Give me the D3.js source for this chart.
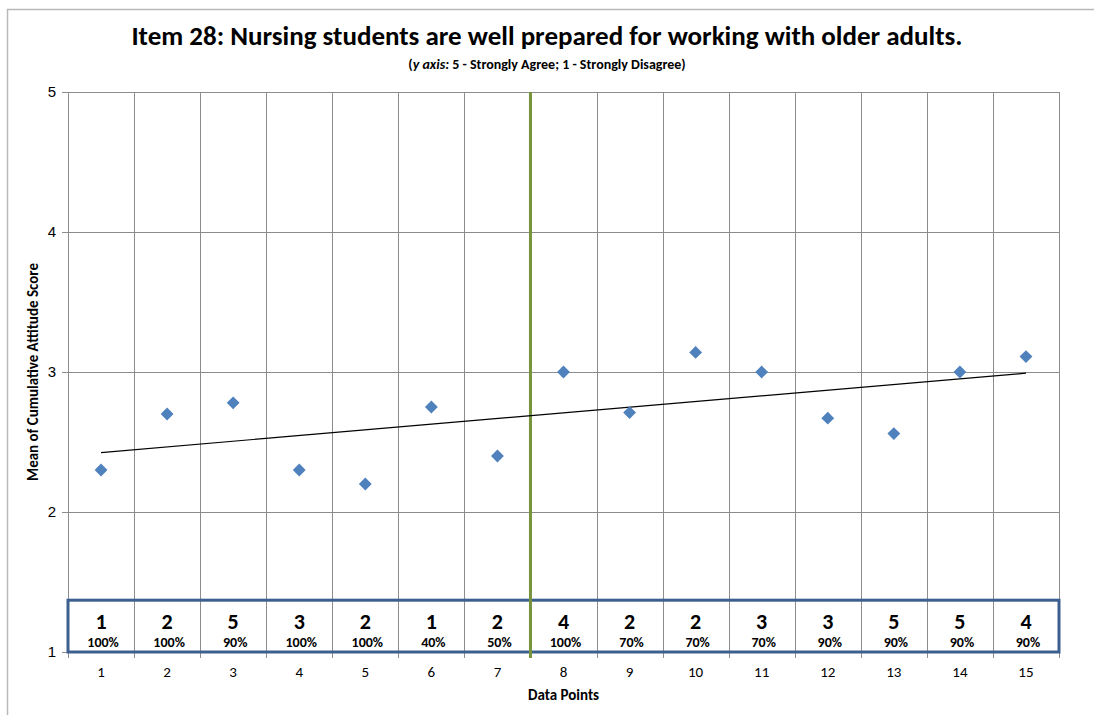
<!DOCTYPE html>
<html>
<head>
<meta charset="utf-8">
<script src="https://cdn.jsdelivr.net/npm/d3@7"></script>
<style>
	body { margin: 0; background: #fff; }
	svg { display: block; font-family: Carlito, Calibri, "Open Sans", "Liberation Sans", sans-serif; }
</style>
</head>
<body>
<svg id="chart" width="1094" height="715"></svg>
<script>
// data
const dataPoints = d3.range(1, 16);
const meanScores = [2.30, 2.70, 2.78, 2.30, 2.20, 2.75, 2.40, 3.00, 2.71, 3.14, 3.00, 2.67, 2.56, 3.00, 3.11];
const counts = [1, 2, 5, 3, 2, 1, 2, 4, 2, 2, 3, 3, 5, 5, 4];
const percents = ["100%", "100%", "90%", "100%", "100%", "40%", "50%", "100%", "70%", "70%", "70%", "90%", "90%", "90%", "90%"];
const yTicks = [1, 2, 3, 4, 5];
const phaseChangeAfter = 7;

const svg = d3.select("#chart");
const margin = { top: 92, right: 35, bottom: 63, left: 68 };
const width = 1094 - margin.left - margin.right;
const height = 715 - margin.top - margin.bottom;

// chart border (runs off the right and bottom edges)
svg.append("rect")
	.attr("x", 7.5).attr("y", 9.5)
	.attr("width", 1200).attr("height", 800)
	.attr("fill", "none")
	.attr("stroke", "#b9b9b9")
	.attr("stroke-width", 1.5);

const x = d3.scaleLinear().domain([0.5, 15.5]).range([0, width]);
const y = d3.scaleLinear().domain([1, 5]).range([height, 0]);

const g = svg.append("g").attr("transform", `translate(${margin.left},${margin.top})`);

// gridlines
g.append("g").selectAll("line")
	.data(yTicks.slice(1))
	.join("line")
	.attr("x1", 0).attr("x2", width)
	.attr("y1", d => Math.round(y(d)) + 0.5).attr("y2", d => Math.round(y(d)) + 0.5)
	.attr("stroke", "#8c8c8c");

const bounds = d3.range(0.5, 16, 1);
g.append("g").selectAll("line")
	.data(bounds)
	.join("line")
	.attr("x1", d => Math.round(x(d)) + 0.5).attr("x2", d => Math.round(x(d)) + 0.5)
	.attr("y1", 0).attr("y2", height)
	.attr("stroke", "#8c8c8c");

// axes
const yAxis = d3.axisLeft(y).tickValues(yTicks).tickFormat(d3.format("d"))
	.tickSizeInner(6).tickSizeOuter(0).tickPadding(6);
const gY = g.append("g").call(yAxis);
gY.select(".domain").attr("stroke", "#8c8c8c");
gY.selectAll(".tick line").attr("stroke", "#8c8c8c");
gY.selectAll("text").attr("font-size", 15).attr("fill", "#000").attr("font-family", null);

const gX = g.append("g").attr("transform", `translate(0,${height})`);
gX.append("line").attr("x1", 0).attr("x2", width).attr("y1", 0.5).attr("y2", 0.5).attr("stroke", "#8c8c8c");
gX.selectAll(".tk")
	.data(bounds)
	.join("line")
	.attr("class", "tk")
	.attr("x1", d => Math.round(x(d)) + 0.5).attr("x2", d => Math.round(x(d)) + 0.5)
	.attr("y1", 0).attr("y2", 6)
	.attr("stroke", "#8c8c8c");
gX.selectAll(".lbl")
	.data(dataPoints)
	.join("text")
	.attr("class", "lbl")
	.attr("x", d => x(d))
	.attr("y", 25)
	.attr("text-anchor", "middle")
	.attr("font-size", 15)
	.text(d => d);

// phase box with counts and percents
const boxTop = y(1.37);
g.append("rect")
	.attr("x", 0).attr("y", boxTop)
	.attr("width", width).attr("height", height - boxTop)
	.attr("fill", "none")
	.attr("stroke", "#3b6090")
	.attr("stroke-width", 3);

g.append("g").selectAll("text")
	.data(counts)
	.join("text")
	.attr("x", (d, i) => x(dataPoints[i]))
	.attr("y", boxTop + 29)
	.attr("text-anchor", "middle")
	.attr("font-size", 22)
	.attr("font-weight", "bold")
	.text(d => d);

g.append("g").selectAll("text")
	.data(percents)
	.join("text")
	.attr("x", (d, i) => x(dataPoints[i]) + 2)
	.attr("y", boxTop + 47)
	.attr("text-anchor", "middle")
	.attr("font-size", 14)
	.attr("font-weight", "bold")
	.text(d => d);

// phase change line
g.append("line")
	.attr("x1", x(phaseChangeAfter + 0.5)).attr("x2", x(phaseChangeAfter + 0.5))
	.attr("y1", 0).attr("y2", height + 6)
	.attr("stroke", "#77933c")
	.attr("stroke-width", 3);

// linear trendline
const mx = d3.mean(dataPoints), my = d3.mean(meanScores);
const slope = d3.sum(dataPoints, (d, i) => (d - mx) * (meanScores[i] - my)) / d3.sum(dataPoints, d => (d - mx) ** 2);
const icpt = my - slope * mx;
const xs = d3.extent(dataPoints);
g.append("path")
	.datum(xs)
	.attr("fill", "none")
	.attr("stroke", "#000")
	.attr("stroke-width", 1.2)
	.attr("d", d3.line().x(d => x(d)).y(d => y(icpt + slope * d)));

// markers
g.append("g").selectAll("path")
	.data(meanScores)
	.join("path")
	.attr("transform", (d, i) => `translate(${x(dataPoints[i])},${y(d)})`)
	.attr("d", d3.symbol(d3.symbolDiamond2, 105))
	.attr("fill", "#4f81bd");

// titles
svg.append("text")
	.attr("x", 547).attr("y", 45)
	.attr("text-anchor", "middle")
	.attr("font-size", 27)
	.attr("font-weight", "bold")
	.text("Item 28: Nursing students are well prepared for working with older adults.");

const sub = svg.append("text")
	.attr("x", 547).attr("y", 69)
	.attr("text-anchor", "middle")
	.attr("font-size", 14)
	.attr("font-weight", "bold");
sub.append("tspan").text("(");
sub.append("tspan").attr("font-style", "italic").text("y axis:");
sub.append("tspan").text(" 5 - Strongly Agree; 1 - Strongly Disagree)");

svg.append("text")
	.attr("transform", `translate(38,${margin.top + height / 2}) rotate(-90)`)
	.attr("text-anchor", "middle")
	.attr("font-size", 15)
	.attr("font-weight", "bold")
	.text("Mean of Cumulative Attitude Score");

svg.append("text")
	.attr("x", margin.left + width / 2).attr("y", 700)
	.attr("text-anchor", "middle")
	.attr("font-size", 15)
	.attr("font-weight", "bold")
	.text("Data Points");
</script>
</body>
</html>
